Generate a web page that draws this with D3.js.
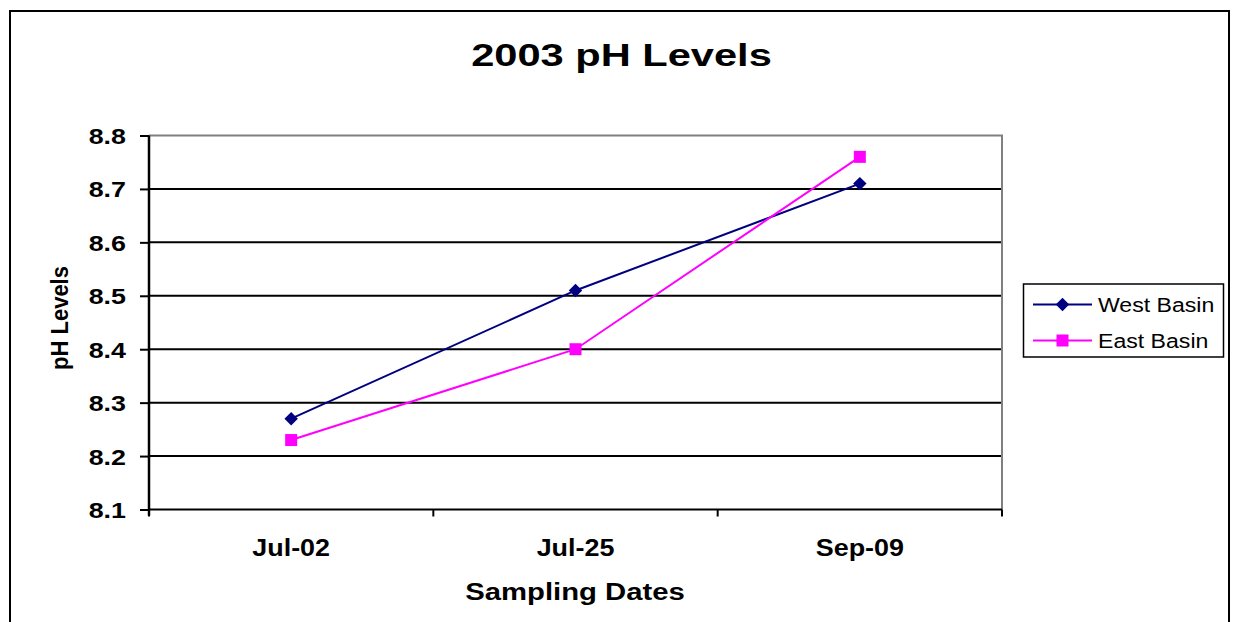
<!DOCTYPE html>
<html><head><meta charset="utf-8">
<script src="https://cdn.jsdelivr.net/npm/d3@7"></script>
<style>
html,body{margin:0;padding:0;background:#fff;}
text{font-family:"Liberation Sans",Arial,sans-serif;}
</style></head>
<body>
<svg id="c" width="1235" height="622"></svg>
<script>
const categories = ["Jul-02", "Jul-25", "Sep-09"];
const westBasin = [8.27, 8.51, 8.71];
const eastBasin = [8.23, 8.40, 8.76];
const yTicks = [8.1, 8.2, 8.3, 8.4, 8.5, 8.6, 8.7, 8.8];
const seriesNames = ["West Basin", "East Basin"];
const seriesColors = ["#000080", "#ff00ff"];

const svg = d3.select("#c");
const L = 149, R = 1002, T = 135.5, B = 509.5;

// outer border
svg.append("rect").attr("x", 10).attr("y", 11).attr("width", 1219).attr("height", 700)
  .attr("fill", "#fff").attr("stroke", "#000").attr("stroke-width", 2);

const x = d3.scaleBand().domain(categories).range([L, R]).padding(0);
const y = d3.scaleLinear().domain([8.1, 8.8]).range([B, T]);
const cx = c => x(c) + x.bandwidth() / 2;

function stext(g, tx, ty, str, opts) {
  return g.append("text")
    .attr("transform", `translate(${tx},${ty}) ` + (opts.rotate ? `rotate(-90) scale(1,${opts.sy||1})` : `scale(${opts.sx||1},1)`))
    .attr("text-anchor", opts.anchor || "middle")
    .attr("font-size", opts.size)
    .attr("font-weight", opts.weight || "bold")
    .attr("fill", "#000")
    .text(str);
}

// title
stext(svg, 621.5, 65.5, "2003 pH Levels", {size: 32, sx: 1.3});

// gridlines
svg.append("g").selectAll("line").data(yTicks.filter(d => d > 8.1 && d < 8.8)).join("line")
  .attr("x1", L).attr("x2", R).attr("y1", d => y(d)).attr("y2", d => y(d))
  .attr("stroke", "#000").attr("stroke-width", 2);

// plot border top & right (gray)
svg.append("path").attr("d", `M${L},${y(8.8)}H${R}V${B}`).attr("fill", "none")
  .attr("stroke", "#808080").attr("stroke-width", 2);

// y axis
const yAxis = svg.append("g").attr("transform", `translate(${L},0)`)
  .call(d3.axisLeft(y).tickValues(yTicks).tickSize(9).tickFormat(d3.format(".1f")));
yAxis.select(".domain").attr("stroke", "#000").attr("stroke-width", 2.5).attr("d", `M0,${T}V${B + 6}`);
yAxis.selectAll(".tick line").attr("stroke", "#000").attr("stroke-width", 2);
yAxis.selectAll(".tick text").remove();
yAxis.selectAll(".tick").each(function(d) {
  stext(d3.select(this), -23, 8, d3.format(".1f")(d), {size: 22, anchor: "end", sx: 1.22});
});

// x axis
const xAxis = svg.append("g").attr("transform", `translate(0,${B})`)
  .call(d3.axisBottom(x).tickSize(0).tickPadding(0));
xAxis.select(".domain").attr("stroke", "#000").attr("stroke-width", 2).attr("d", `M${L},0H${R}`);
xAxis.selectAll(".tick line").remove();
xAxis.selectAll(".tick text").remove();
xAxis.selectAll(".tick").each(function(d) {
  stext(d3.select(this), 0, 46, d, {size: 23, sx: 1.17});
});
const edges = categories.map(c => x(c)).concat([x.range()[1]]);
xAxis.append("g").selectAll("line").data(edges).join("line")
  .attr("x1", d => d).attr("x2", d => d).attr("y1", 0).attr("y2", 7)
  .attr("stroke", "#000").attr("stroke-width", 2);

// axis titles
stext(svg, 575, 599.5, "Sampling Dates", {size: 24, sx: 1.22});
stext(svg, 68, 318, "pH Levels", {size: 22, rotate: true, sy: 1.05});

// series
const series = [westBasin, eastBasin];
const line = d3.line().x((d, i) => cx(categories[i])).y(d => y(d));
const diamond = d3.symbol().type(d3.symbolSquare).size(90);
const square = d3.symbol().type(d3.symbolSquare).size(144);

series.forEach((vals, si) => {
  svg.append("path").attr("d", line(vals)).attr("fill", "none")
    .attr("stroke", seriesColors[si]).attr("stroke-width", 2);
  svg.append("g").selectAll("path").data(vals).join("path")
    .attr("transform", (d, i) => `translate(${cx(categories[i])},${y(d)})` + (si === 0 ? " rotate(45)" : ""))
    .attr("d", si === 0 ? diamond() : square())
    .attr("fill", seriesColors[si]);
});

// legend
const lg = svg.append("g");
lg.append("rect").attr("x", 1023.5).attr("y", 284).attr("width", 200).attr("height", 73)
  .attr("fill", "#fff").attr("stroke", "#000").attr("stroke-width", 1.5);
seriesNames.forEach((n, i) => {
  const ly = 304.5 + i * 36;
  lg.append("line").attr("x1", 1033).attr("x2", 1092).attr("y1", ly).attr("y2", ly)
    .attr("stroke", seriesColors[i]).attr("stroke-width", 2);
  lg.append("path").attr("transform", `translate(1062.5,${ly})` + (i === 0 ? " rotate(45)" : ""))
    .attr("d", i === 0 ? diamond() : square()).attr("fill", seriesColors[i]);
  stext(lg, 1098, ly + 7.5, n, {size: 21, weight: "normal", anchor: "start", sx: 1.1});
});
</script>
</body></html>
